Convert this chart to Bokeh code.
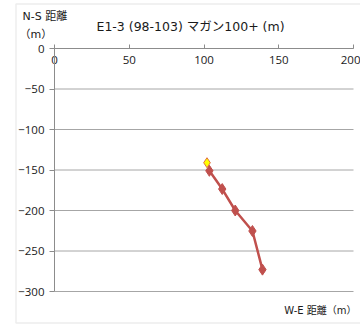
from bokeh.plotting import figure
from bokeh.models import FixedTicker, Label, Range1d, BoxAnnotation
from bokeh.embed import file_html
from bokeh.resources import INLINE

# data (m)
start_x = [102]
start_y = [-141]
track_x = [103.6, 112.2, 120.9, 132.4, 139.1]
track_y = [-151, -173.5, -200, -225.3, -273]
x_ticks = [0, 50, 100, 150, 200]
y_ticks = [0, -50, -100, -150, -200, -250, -300]
title_text = "E1-3 (98-103)  マガン100+ (m)"
y_title1 = "N-S 距離"
y_title2 = "（m）"
x_title = "W-E 距離（m）"

FONT = "DejaVu Sans, Noto Sans CJK JP"

W, H = 360, 325
# plot area in pixels
PX0, PX1 = 54, 353   # x = 0 .. 200
PY0, PY1 = 48, 291   # y = 0 .. -300
sx = (PX1 - PX0) / (x_ticks[-1] - x_ticks[0])
sy = (PY1 - PY0) / (y_ticks[0] - y_ticks[-1])
x_range = Range1d(-PX0 / sx, (W - PX0) / sx)
y_range = Range1d(-(H - PY0) / sy, PY0 / sy)

p = figure(width=W, height=H, output_backend="svg", toolbar_location=None,
           x_range=x_range, y_range=y_range,
           min_border=0)
p.outline_line_color = None
p.background_fill_color = "white"
p.border_fill_color = "white"

# chart area border
p.add_layout(BoxAnnotation(left=15.5, right=400, top=3.5, bottom=322.5,
                           left_units="canvas", right_units="canvas",
                           top_units="canvas", bottom_units="canvas",
                           fill_color=None, fill_alpha=0, line_color="#c4c4c4", line_width=1.5,
                           level="underlay"))

p.xgrid.grid_line_color = None
p.ygrid.grid_line_color = None
# horizontal gridlines over the plot area
p.segment(x0=[x_ticks[0]] * len(y_ticks), x1=[x_ticks[-1]] * len(y_ticks),
          y0=y_ticks, y1=y_ticks, line_color="#a6a6a6", line_width=1)

p.xaxis.fixed_location = 0
p.yaxis.fixed_location = 0
p.xaxis.bounds = (x_ticks[0], x_ticks[-1])
p.yaxis.bounds = (y_ticks[-1], y_ticks[0])
p.xaxis.ticker = FixedTicker(ticks=x_ticks)
p.yaxis.ticker = FixedTicker(ticks=y_ticks)
for ax in (p.xaxis, p.yaxis):
    ax.axis_line_color = "#8c8c8c"
    ax.major_tick_line_color = "#8c8c8c"
    ax.minor_tick_line_color = None
    ax.major_label_text_font = "Open Sans"
    ax.major_label_text_font_size = "11.5px"
    ax.major_label_text_color = "#1a1a1a"
p.xaxis.major_tick_in = 4
p.xaxis.major_tick_out = 0
p.xaxis.major_label_standoff = 7
p.yaxis.major_tick_in = 0
p.yaxis.major_tick_out = 5
p.yaxis.major_label_standoff = 5

p.line(track_x, track_y, line_color="#c0504d", line_width=2.5)
p.scatter(track_x, track_y, marker="diamond", size=11, fill_color="#c0504d", line_color="#c0504d")
p.scatter(start_x, start_y, marker="diamond", size=10, fill_color="#ffff00", line_color="#e07040", line_width=1)

def lab(x, y, text, size, align="left"):
    p.add_layout(Label(x=x, y=y, x_units="canvas", y_units="canvas", text=text,
                       text_font=FONT, text_font_size=size,
                       text_baseline="middle", text_align=align, text_color="#1a1a1a"))

lab(96, 26, title_text, "12.5px")
lab(22, 16, y_title1, "11px")
lab(19, 34, y_title2, "11px")
lab(356, 310, x_title, "10px", "right")

open("out.html", "w").write(file_html(p, INLINE))
